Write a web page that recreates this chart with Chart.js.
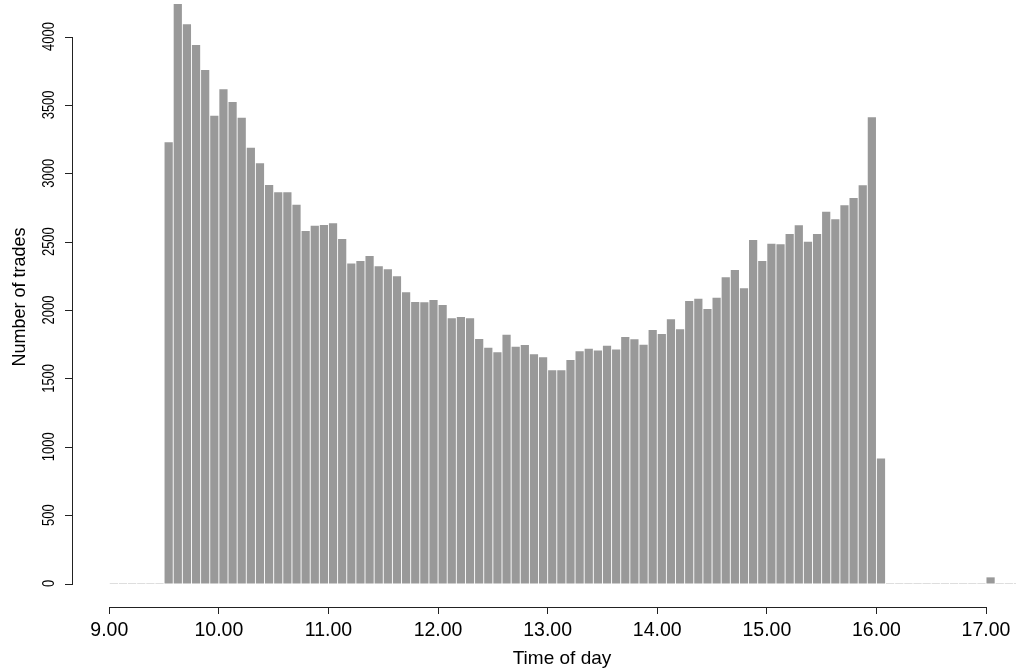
<!DOCTYPE html>
<html>
<head>
<meta charset="utf-8">
<title>Number of trades by time of day</title>
<script src="https://cdn.jsdelivr.net/npm/chart.js@4.4.1/dist/chart.umd.min.js"></script>
<style>
  html, body { margin: 0; padding: 0; background: #fff; overflow: hidden; }
  canvas { display: block; }
</style>
</head>
<body>
<canvas id="chart" width="1016" height="671"></canvas>
<script>
// 5-minute bins, times as decimal hours
const firstBin = 9.0
const lastBin = 17.3333
const binWidth = 5 / 60

// counts for the trading session, 9:30 up to 16:05
const sessionStart = 9.5
const sessionCounts = [
  3226, 4237, 4089, 3938, 3755, 3421, 3614, 3521, 3406, 3187,
  3073, 2914, 2861, 2861, 2770, 2578, 2617, 2622, 2634, 2519,
  2341, 2358, 2395, 2320, 2298, 2246, 2129, 2058, 2056, 2073,
  2037, 1939, 1949, 1939, 1788, 1724, 1691, 1819, 1732, 1744,
  1676, 1654, 1560, 1560, 1634, 1698, 1717, 1703, 1739, 1712,
  1803, 1786, 1746, 1854, 1825, 1932, 1859, 2066, 2083, 2007,
  2090, 2239, 2293, 2160, 2512, 2358, 2485, 2480, 2556, 2619,
  2500, 2556, 2719, 2663, 2766, 2819, 2912, 3409, 915
]
// the lone after-hours bin
const lateStart = 17.0
const lateCounts = [45]

const hourTicks = [9, 10, 11, 12, 13, 14, 15, 16, 17]
const hourLabels = ['9.00', '10.00', '11.00', '12.00', '13.00', '14.00', '15.00', '16.00', '17.00']
const countTicks = [0, 500, 1000, 1500, 2000, 2500, 3000, 3500, 4000]

const FONT = '"Liberation Sans", Arial, sans-serif'

// build all bins, empty ones get 0
function countAt(t) {
  const i = Math.round((t - sessionStart) / binWidth)
  if (i >= 0 && i < sessionCounts.length) return sessionCounts[i]
  const j = Math.round((t - lateStart) / binWidth)
  if (j >= 0 && j < lateCounts.length) return lateCounts[j]
  return 0
}
const bins = []
const nBins = Math.round((lastBin - firstBin) / binWidth)
for (let k = 0; k < nBins; k++) {
  const t = firstBin + k * binWidth
  bins.push({ x: t + binWidth / 2, y: countAt(t) })
}

// R style detached axes, rotated y labels, titles
const rAxes = {
  id: 'rAxes',
  afterDraw(chart) {
    const ctx = chart.ctx
    const xs = chart.scales.x, ys = chart.scales.y
    const area = chart.chartArea
    ctx.save()
    ctx.fillStyle = '#222'
    // x axis line, from first to last hour tick
    const yb = Math.round(area.bottom)
    const x0 = Math.round(xs.getPixelForValue(hourTicks[0]))
    const x1 = Math.round(xs.getPixelForValue(hourTicks[hourTicks.length - 1]))
    ctx.fillRect(x0, yb, x1 - x0 + 1, 1)
    // y axis line + tick marks
    const xl = Math.round(area.left) - 1
    const yTop = Math.round(ys.getPixelForValue(countTicks[countTicks.length - 1]))
    const yBot = Math.round(ys.getPixelForValue(countTicks[0]))
    ctx.fillRect(xl, yTop, 1, yBot - yTop + 1)
    countTicks.forEach(v => {
      ctx.fillRect(xl - 7, Math.round(ys.getPixelForValue(v)), 8, 1)
    })

    ctx.fillStyle = '#000'
    ctx.textAlign = 'center'
    ctx.textBaseline = 'alphabetic'
    ctx.font = '13px ' + FONT
    countTicks.forEach(v => {
      ctx.save()
      ctx.translate(54, ys.getPixelForValue(v))
      ctx.rotate(-Math.PI / 2)
      ctx.scale(1, 1.2)
      ctx.fillText(String(v), 0, 0)
      ctx.restore()
    })

    ctx.font = '18px ' + FONT
    ctx.save()
    ctx.translate(25, 297)
    ctx.rotate(-Math.PI / 2)
    ctx.fillText('Number of trades', 0, 0)
    ctx.restore()

    ctx.font = '19px ' + FONT
    ctx.fillText('Time of day', 562, 664)
    ctx.restore()
  }
}

new Chart(document.getElementById('chart'), {
  type: 'bar',
  data: {
    datasets: [{
      data: bins,
      backgroundColor: ctx => (ctx.raw && ctx.raw.y > 0) ? '#999999' : '#dedede',
      borderWidth: 0,
      minBarLength: 1,
      barPercentage: 0.9,
      categoryPercentage: 1.0
    }]
  },
  plugins: [rAxes],
  options: {
    responsive: false,
    devicePixelRatio: 1,
    animation: false,
    layout: { padding: 0 },
    plugins: { legend: { display: false }, tooltip: { enabled: false } },
    scales: {
      x: {
        type: 'linear',
        min: 8.6688,
        max: 17.2736,
        offset: false,
        afterBuildTicks: s => { s.ticks = hourTicks.map(v => ({ value: v })) },
        afterFit: s => { s.height = 64 },
        ticks: {
          autoSkip: false,
          maxRotation: 0,
          padding: 5,
          color: '#000',
          font: { family: FONT, size: 19.5 },
          callback: (v, i) => hourLabels[i]
        },
        grid: { offset: false, drawOnChartArea: false, drawTicks: true, tickLength: 7, color: '#222' },
        border: { display: false }
      },
      y: {
        min: -171.8,
        max: 4267,
        afterBuildTicks: s => { s.ticks = countTicks.map(v => ({ value: v })) },
        afterFit: s => { s.width = 73 },
        ticks: { display: false },
        grid: { display: false },
        border: { display: false }
      }
    }
  }
})
</script>
</body>
</html>
